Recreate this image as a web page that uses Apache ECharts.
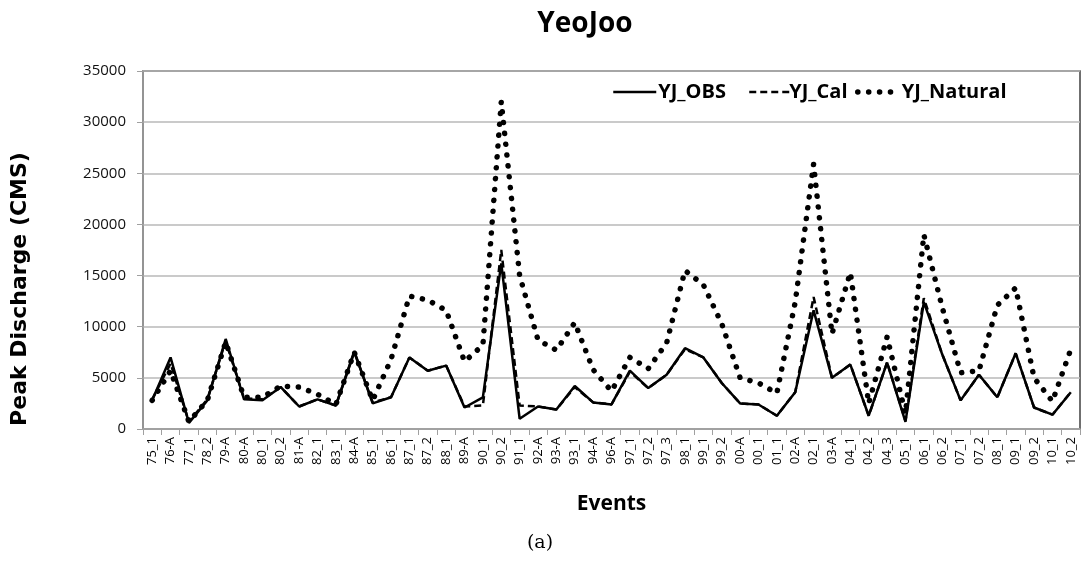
<!DOCTYPE html>
<html>
<head>
<meta charset="utf-8">
<script src="https://cdn.jsdelivr.net/npm/echarts@6/dist/echarts.min.js"></script>
<style>html,body{margin:0;padding:0;background:#fff;}#main{width:1085px;height:564px;}</style>
</head>
<body>
<div id="main"></div>
<script>
const categories = ['75_1','76-A','77_1','78_2','79-A','80-A','80_1','80_2','81-A','82_1','83_1','84-A','85_1','86_1','87_1','87_2','88_1','89-A','90_1','90_2','91_1','92-A','93-A','93_1','94-A','96-A','97_1','97_2','97_3','98_1','99_1','99_2','00-A','00_1','01_1','02-A','02_1','03-A','04_1','04_2','04_3','05_1','06_1','06_2','07_1','07_2','08_1','09_1','09_2','10_1','10_2'];
const obs = [2800,7000,600,2800,8800,2900,2800,4100,2200,2900,2300,7600,2500,3100,7000,5700,6200,2100,3100,16200,1000,2200,1900,4200,2600,2400,5700,4000,5300,7900,7000,4500,2500,2400,1300,3600,11600,5000,6300,1300,6500,700,12400,7300,2800,5300,3100,7400,2100,1400,3600];
const cal = [2900,6400,700,2900,8600,3000,2900,4100,2200,2900,2300,7500,2600,3100,7000,5700,6200,2200,2300,17500,2300,2200,1900,4100,2600,2400,5600,4000,5300,7800,7000,4500,2500,2400,1300,3600,12900,5000,6300,1300,6500,800,12800,7300,2800,5300,3100,7400,2100,1400,3600];
const natural = [2800,5700,700,2800,8500,3100,3100,4200,4100,3400,2400,7500,2800,6800,13000,12600,11600,6600,8200,32000,15000,8700,7700,10400,5800,3700,7000,5900,8400,15500,14100,10300,5000,4500,3500,12400,25900,9300,15300,2500,9000,1500,19000,11900,5500,5700,12100,13800,5000,2700,7800];
const yTicks = {min: 0, max: 35000, interval: 5000};

const FONT = "'Open Sans', 'Noto Sans', sans-serif";
const obsLine = {color: '#000', width: 2.5};
const calLine = {color: '#000', width: 2.5, type: [7, 4]};
const natLine = {color: '#000', width: 5.5, type: [0.1, 10.8], cap: 'round'};
const legendText = (pad) => ({fontFamily: FONT, fontSize: 20, fontWeight: 'bold', color: '#000', padding: [0, 0, 0, pad]});
const hiddenSymbol = {color: 'rgba(0,0,0,0)', borderWidth: 0, opacity: 0};
const chart = echarts.init(document.getElementById('main'), null, {renderer: 'canvas'});
chart.setOption({
  animation: false,
  backgroundColor: '#fff',
  title: {
    text: 'YeoJoo', left: 580, top: 5, textAlign: 'center',
    textStyle: {fontFamily: FONT, fontSize: 28, fontWeight: 'bold', color: '#000'}
  },
  legend: [
    {left: 607, top: 77, itemWidth: 43, itemHeight: 14, textStyle: legendText(-3),
     itemStyle: hiddenSymbol, lineStyle: obsLine, data: ['YJ_OBS']},
    {left: 743, top: 77, itemWidth: 40, itemHeight: 14, textStyle: legendText(-5),
     itemStyle: hiddenSymbol, lineStyle: calLine, data: ['YJ_Cal']},
    {left: 850, top: 77, itemWidth: 36, itemHeight: 14, textStyle: legendText(3),
     itemStyle: hiddenSymbol, lineStyle: natLine, data: ['YJ_Natural']}
  ],
  grid: {left: 143, right: 5, top: 71, bottom: 135, show: true, borderColor: '#404040', borderWidth: 1.5},
  xAxis: {
    type: 'category', data: categories, boundaryGap: true,
    name: 'Events', nameLocation: 'middle', nameGap: 65,
    nameTextStyle: {fontFamily: FONT, fontSize: 21, fontWeight: 'bold', color: '#000'},
    axisLine: {lineStyle: {color: '#a0a0a0', width: 1.5}},
    axisTick: {show: true, alignWithLabel: false, interval: 0, length: 6, lineStyle: {color: '#a0a0a0'}},
    axisLabel: {interval: 0, rotate: 90, fontFamily: FONT, fontSize: 13, color: '#000', margin: 8}
  },
  yAxis: {
    type: 'value', min: yTicks.min, max: yTicks.max, interval: yTicks.interval,
    axisLine: {show: true, lineStyle: {color: '#a0a0a0', width: 1.5}},
    axisTick: {show: true, length: 6, lineStyle: {color: '#a0a0a0'}},
    axisLabel: {fontFamily: FONT, fontSize: 15, color: '#111', margin: 17, formatter: v => String(v)},
    splitLine: {lineStyle: {color: '#b8b8b8', width: 1.5}}
  },
  series: [
    {name: 'YJ_OBS', type: 'line', data: obs, showSymbol: false, symbol: 'none', z: 4,
     lineStyle: obsLine, itemStyle: {color: '#000'}},
    {name: 'YJ_Cal', type: 'line', data: cal, showSymbol: false, symbol: 'none', z: 3,
     lineStyle: calLine, itemStyle: {color: '#000'}},
    {name: 'YJ_Natural', type: 'line', data: natural, showSymbol: false, symbol: 'none', z: 2,
     lineStyle: natLine, itemStyle: {color: '#000'}}
  ],
  graphic: [
    {type: 'text', x: 20, y: 289, rotation: Math.PI / 2,
     style: {text: 'Peak Discharge (CMS)', font: "bold 22px 'DejaVu Sans', sans-serif", fill: '#000',
             textAlign: 'center', textVerticalAlign: 'middle'}},
    {type: 'text', x: 540, y: 543,
     style: {text: '(a)', font: "19px 'DejaVu Serif', serif", fill: '#000',
             textAlign: 'center', textVerticalAlign: 'middle'}}
  ]
});
</script>
</body>
</html>
